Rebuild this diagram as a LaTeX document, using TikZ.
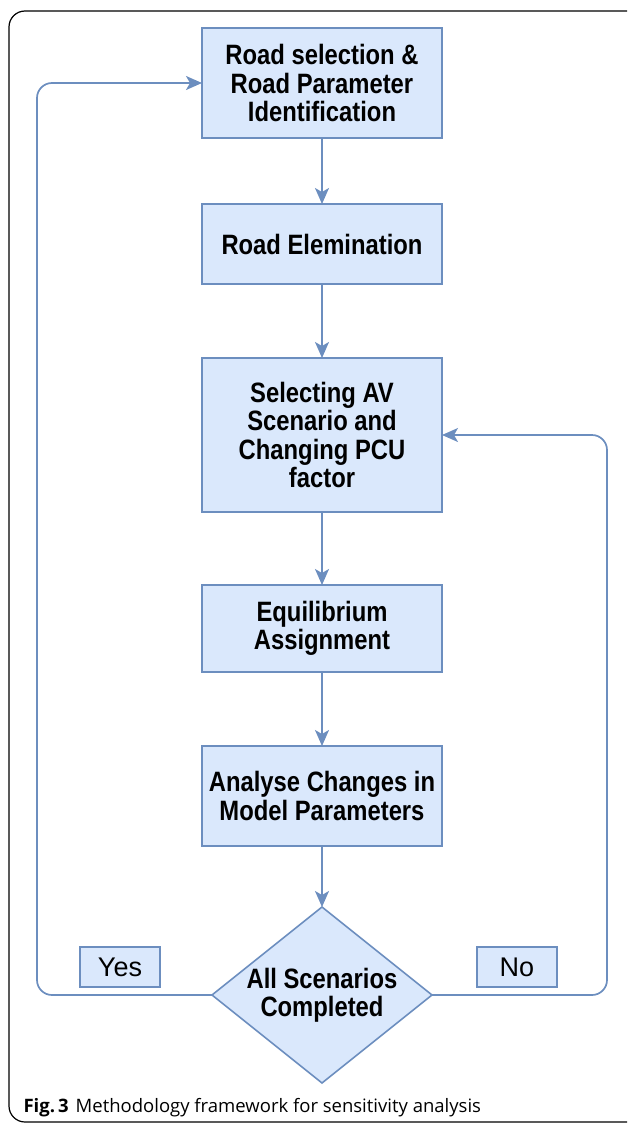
\documentclass[tikz,border=0pt]{standalone}
\usepackage{fontspec}
\setmainfont{Liberation Sans}
\newfontfamily\boxfont{Liberation Sans}[FakeStretch=0.85]
\newfontfamily\captionfont{Open Sans}
\usetikzlibrary{shapes, arrows.meta, positioning}
\definecolor{boxfill}{HTML}{DAE8FC}
\definecolor{boxline}{HTML}{6C8EBF}

\begin{document}
\begin{tikzpicture}[x=1pt, y=-1pt,
	stepbox/.style={draw=boxline, fill=boxfill, line width=1.6pt, rectangle, align=center, minimum width=240pt, inner sep=2pt, outer sep=0pt, font=\boxfont\bfseries\fontsize{28pt}{28.5pt}\selectfont},
	answer/.style={draw=boxline, fill=boxfill, line width=1.6pt, rectangle, minimum width=80pt, minimum height=40pt, inner sep=0pt, font=\fontsize{27pt}{30pt}\selectfont},
	flow/.style={draw=boxline, line width=1.7pt, -{Stealth[length=16pt, width=14pt, inset=4pt]}}]
		\useasboundingbox (0, 0) rectangle (627, 1124);
		\draw[line width=1.2pt, rounded corners=16pt] (627, 11) -- (9, 11) -- (9, 1122) -- (627, 1122);
		\node[stepbox, minimum height=110pt] (road-select) at (322, 83) {Road selection \&\\Road Parameter\\Identification};
		\node[stepbox, minimum height=80pt, below = 66pt of road-select] (road-elim) {Road Elemination};
		\node[stepbox, minimum height=154pt, below = 74pt of road-elim] (av-scenario) {Selecting AV\\Scenario and\\Changing PCU\\factor};
		\node[stepbox, minimum height=87pt, below = 73pt of av-scenario] (equilibrium) {Equilibrium\\Assignment};
		\node[stepbox, minimum height=100pt, below = 74pt of equilibrium] (analyse) {Analyse Changes in\\Model Parameters};
		\node[stepbox, diamond, minimum width=220pt, minimum height=176pt, aspect=1.25, inner sep=0pt, below = 61pt of analyse] (all-done) {All Scenarios\\Completed};
		\node[answer] (yes) at (120, 967) {Yes};
		\node[answer] (no) at (517, 967) {No};
		\path [flow] (road-select) -- (road-elim);
		\path [flow] (road-elim) -- (av-scenario);
		\path [flow] (av-scenario) -- (equilibrium);
		\path [flow] (equilibrium) -- (analyse);
		\path [flow] (analyse) -- (all-done);
		\path [flow, rounded corners=15pt] (all-done.west) -- ++(-175, 0) |- (road-select.west);
		\path [flow, rounded corners=15pt] (all-done.east) -- ++(175, 0) |- (av-scenario.east);
		\node[anchor=base west, font=\captionfont\fontsize{18.5pt}{20pt}\selectfont] (caption) at (20, 1112) {\textbf{Fig.\,3}\hspace{7pt}Methodology framework for sensitivity analysis};
	\end{tikzpicture}
\end{document}
